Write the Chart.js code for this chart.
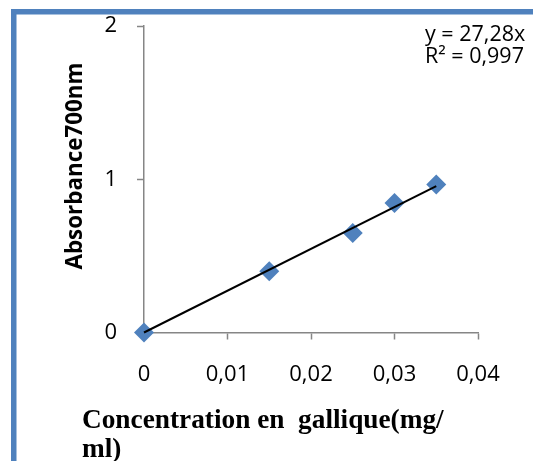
<!DOCTYPE html>
<html>
<head>
<meta charset="utf-8">
<script src="https://cdn.jsdelivr.net/npm/chart.js@4/dist/chart.umd.min.js"></script>
<style>
  html, body { margin: 0; padding: 0; background: #ffffff; }
  #wrap { position: relative; width: 533px; height: 461px; }
</style>
</head>
<body>
<div id="wrap"><canvas id="chart" width="533" height="461"></canvas></div>
<script>
// Gallic acid calibration: concentration (mg/ml) vs absorbance at 700 nm
const concentrations = [0, 0.015, 0.025, 0.03, 0.035];
const absorbances    = [0, 0.40, 0.65, 0.845, 0.965];

// Linear trendline as printed on the chart
const trendSlope     = 27.28;
const trendIntercept = 0;
const trendR2Label   = 'R² = 0,997';
const trendEqLabel   = 'y = 27,28x';

// Axis ranges / tick values
const xTicks = [0, 0.01, 0.02, 0.03, 0.04];
const yTicks = [0, 1, 2];

const xTitleLines = ['Concentration en  gallique(mg/', 'ml)'];
const yTitle = 'Absorbance700nm';

const BLUE = '#4F81BD';
const AXIS_GREY = '#868686';
const SANS = '"Open Sans", "Liberation Sans", sans-serif';
const TICK_FONT = { family: SANS, size: 22 };

const fmt = v => String(+(+v).toFixed(3)).replace('.', ',');

const trendX = [concentrations[0], concentrations[concentrations.length - 1]];
const trendData = trendX.map(x => ({ x, y: trendSlope * x + trendIntercept }));
const pointData = concentrations.map((x, i) => ({ x, y: absorbances[i] }));

// Frame and free-standing text (equation, axis titles)
const decor = {
  id: 'decor',
  beforeDraw(chart) {
    const ctx = chart.ctx;
    ctx.save();
    ctx.fillStyle = '#ffffff';
    ctx.fillRect(0, 0, chart.width, chart.height);
    ctx.fillStyle = BLUE;
    ctx.fillRect(11, 9, 5.5, chart.height);
    ctx.fillRect(11, 9, chart.width, 5.5);
    ctx.restore();
  },
  afterDraw(chart) {
    const ctx = chart.ctx;
    ctx.save();
    ctx.fillStyle = '#000000';
    ctx.textAlign = 'left';
    ctx.textBaseline = 'alphabetic';
    ctx.font = '21.5px ' + SANS;
    ctx.fillText(trendEqLabel, 425, 41);
    ctx.fillText(trendR2Label, 425, 63);

    ctx.font = 'bold 27.3px "Liberation Serif", "Times New Roman", serif';
    ctx.fillText(xTitleLines[0], 82, 428);
    ctx.fillText(xTitleLines[1], 82, 457);

    ctx.translate(82, 166);
    ctx.rotate(-Math.PI / 2);
    ctx.textAlign = 'center';
    ctx.font = 'bold 22.4px ' + SANS;
    ctx.fillText(yTitle, 0, 0);
    ctx.restore();
  }
};

new Chart(document.getElementById('chart'), {
  type: 'scatter',
  data: {
    datasets: [
      {
        type: 'line',
        label: 'Linéaire',
        data: trendData,
        borderColor: '#000000',
        borderWidth: 2,
        pointRadius: 0,
        fill: false,
        clip: false
      },
      {
        label: 'Absorbance',
        data: pointData,
        pointStyle: 'rectRot',
        pointRadius: 10,
        pointHoverRadius: 10,
        backgroundColor: BLUE,
        borderColor: BLUE,
        borderWidth: 0,
        clip: false
      }
    ]
  },
  options: {
    responsive: false,
    animation: false,
    layout: { padding: { left: 0, right: 55, top: 26, bottom: 0 } },
    plugins: { legend: { display: false }, tooltip: { enabled: false } },
    scales: {
      x: {
        type: 'linear',
        min: xTicks[0],
        max: xTicks[xTicks.length - 1],
        afterBuildTicks: s => { s.ticks = xTicks.map(v => ({ value: v })); },
        afterFit: s => { s.height = 128.5; s.paddingLeft = 0; s.paddingRight = 0; },
        border: { color: AXIS_GREY, width: 1.5 },
        grid: { drawOnChartArea: false, color: AXIS_GREY, tickLength: 7, tickWidth: 1.5 },
        ticks: { color: '#000000', font: TICK_FONT, padding: 22, maxRotation: 0, callback: fmt }
      },
      y: {
        type: 'linear',
        min: yTicks[0],
        max: yTicks[yTicks.length - 1],
        afterBuildTicks: s => { s.ticks = yTicks.map(v => ({ value: v })); },
        afterFit: s => { s.width = 144; s.paddingTop = 0; s.paddingBottom = 0; },
        border: { color: AXIS_GREY, width: 1.5 },
        grid: { drawOnChartArea: false, color: AXIS_GREY, tickLength: 7, tickWidth: 1.5 },
        ticks: { color: '#000000', font: TICK_FONT, padding: 20, callback: fmt }
      }
    }
  },
  plugins: [decor]
});
</script>
</body>
</html>
